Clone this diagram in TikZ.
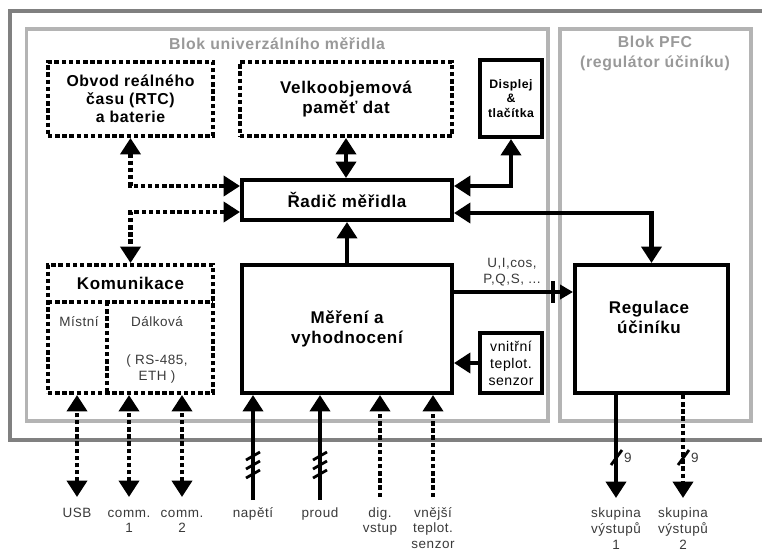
\documentclass[tikz,border=0pt]{standalone}
\usepackage{fontspec}
\setmainfont{Liberation Sans}[LetterSpace=4]
\usetikzlibrary{arrows.meta,calc}
\definecolor{framedark}{HTML}{808080}
\definecolor{framelight}{HTML}{B4B4B4}
\definecolor{titlegray}{HTML}{999999}
\definecolor{textgray}{HTML}{3A3A3A}
\begin{document}
\begin{tikzpicture}[x=0.03cm,y=-0.03cm,
  >={Triangle[length=14pt,width=17pt]},
  solidbox/.style={draw,line width=3.4pt,align=center,inner sep=0pt},
  dotbox/.style={solidbox,dash pattern=on 3.8pt off 2.3pt},
  bigtxt/.style={font=\bfseries\fontsize{14.5}{17}\selectfont},
  midtxt/.style={font=\bfseries\fontsize{13.5}{15.3}\selectfont},
  blocktitle/.style={text=titlegray,align=center,font=\bfseries\fontsize{13.5}{17}\selectfont},
  lbl/.style={text=textgray,align=center,inner sep=0pt,font=\fontsize{11.5}{13.2}\selectfont},
  portlbl/.style={lbl,anchor=north},
  link/.style={line width=3.8pt},
  dotlink/.style={line width=4.2pt,dash pattern=on 3.8pt off 2.3pt},
  slashmark/.style={line width=2.4pt}]
\useasboundingbox (0,0) rectangle (762,551);
% frames of the blocks
\draw[framedark,line width=4.2pt] (10,11) rectangle (790,440);
\draw[framelight,line width=3.4pt] (26.5,29) rectangle (548,421);
\draw[framelight,line width=3.4pt] (559.5,29) rectangle (751,421);
\node[blocktitle] (tmeter) at (277,44) {Blok univerzálního měřidla};
\node[blocktitle] (tpfc) at (655,53) {Blok PFC\\(regulátor účiníku)};
% boxes
\node[dotbox,midtxt,minimum width=4.95cm,minimum height=2.22cm] (rtc) at (130.5,99)
  {Obvod reálného\\času (RTC)\\a baterie};
\node[dotbox,bigtxt,minimum width=6.36cm,minimum height=2.22cm] (mem) at (346,99)
  {Velkoobjemová\\paměť dat};
\node[solidbox,font=\bfseries\fontsize{10.5}{12.5}\selectfont,minimum width=1.86cm,minimum height=2.31cm] (disp) at (511,98.5)
  {Displej\\\&\\tlačítka};
\node[solidbox,bigtxt,minimum width=6.3cm,minimum height=1.2cm] (ctrl) at (347,200) {Řadič měřidla};
\node[dotbox,minimum width=4.95cm,minimum height=3.84cm] (comm) at (130.5,329) {};
\node[solidbox,bigtxt,minimum width=6.3cm,minimum height=3.84cm] (meas) at (347,329)
  {Měření a\\vyhodnocení};
\node[solidbox,line width=3pt,font=\fontsize{12}{14.5}\selectfont,minimum width=1.86cm,minimum height=1.8cm] (sens) at (511,363)
  {vnitřní\\teplot.\\senzor};
\node[solidbox,minimum width=4.59cm,minimum height=3.84cm] (pfc) at (651.5,329) {};
\node[bigtxt,align=center] (tpfcreg) at (649,317) {Regulace\\účiníku};
% inside of Komunikace
\node[bigtxt] (tcomm) at (130.5,283) {Komunikace};
\draw[dotlink,line width=3.4pt] (48,302) -- (213,302);
\draw[dotlink,line width=3.4pt] (107,302) -- (107,393);
\node[lbl] (tlocal) at (79,322) {Místní};
\node[lbl] (tremote) at (157,322) {Dálková};
\node[lbl] (tbus) at (157,369) {( RS-485,\\ETH )};
% links between boxes
\draw[dotlink,<->] (rtc.south) |- ($(ctrl.west)+(0,-14)$);
\draw[dotlink,<->] ($(ctrl.west)+(0,12)$) -| (comm.north);
\draw[link,<->] (mem.south) -- (mem.south |- ctrl.north);
\draw[link,<->] ($(ctrl.east)+(0,-14)$) -| (disp.south);
\draw[link,<->] ($(ctrl.east)+(0,13)$) -| (pfc.north);
\draw[link,->] (meas.north) -- (ctrl.south);
\draw[link,->] (sens.west) -- (sens.west -| meas.east);
\draw[link,-{Bar[width=19pt,sep=4pt]Triangle[length=11pt,width=12pt]}]
  ($(meas.east)+(0,-37)$) -- ($(pfc.west)+(0,-37)$);
\node[lbl] (tvals) at (512,272) {U,I,cos,\\P,Q,S, ...};
% communication ports
\foreach \nm/\xx/\txt in {usb/77/USB,ca/129/{comm.\\1},cb/182/{comm.\\2}} {
  \coordinate (e\nm) at (\xx,497);
  \draw[dotlink,<->] (e\nm) -- (e\nm |- comm.south);
  \node[portlbl] (l\nm) at (\xx,506) {\strut\txt};
}
% measuring inputs
\coordinate (enap) at (253,500);
\coordinate (eprd) at (320,500);
\coordinate (edig) at (380,497);
\coordinate (etmp) at (433,497);
\draw[link,->] (enap) -- (enap |- meas.south);
\draw[link,->] (eprd) -- (eprd |- meas.south);
\draw[dotlink,->] (edig) -- (edig |- meas.south);
\draw[dotlink,->] (etmp) -- (etmp |- meas.south);
\foreach \xx in {253,320}
  \foreach \yy in {456,465,474}
    \draw[slashmark] (\xx-7,\yy+4) -- (\xx+7,\yy-4);
\node[portlbl] (lnap) at (253,506) {\strut napětí};
\node[portlbl] (lprd) at (320,506) {\strut proud};
\node[portlbl] (ldig) at (380,506) {\strut dig.\\vstup};
\node[portlbl] (ltmp) at (433,506) {\strut vnější\\teplot.\\senzor};
% outputs
\coordinate (eouta) at (616,498);
\coordinate (eoutb) at (683,498);
\draw[link,->] (eouta |- pfc.south) -- (eouta);
\draw[dotlink,->] (eoutb |- pfc.south) -- (eoutb);
\draw[slashmark] (611,465) -- (622,450);
\draw[slashmark] (678,465) -- (689,450);
\node[lbl,anchor=west] (nouta) at (624,458) {9};
\node[lbl,anchor=west] (noutb) at (691,458) {9};
\node[portlbl] (louta) at (616,506) {\strut skupina\\výstupů\\1};
\node[portlbl] (loutb) at (683,506) {\strut skupina\\výstupů\\2};
\end{tikzpicture}
\end{document}
